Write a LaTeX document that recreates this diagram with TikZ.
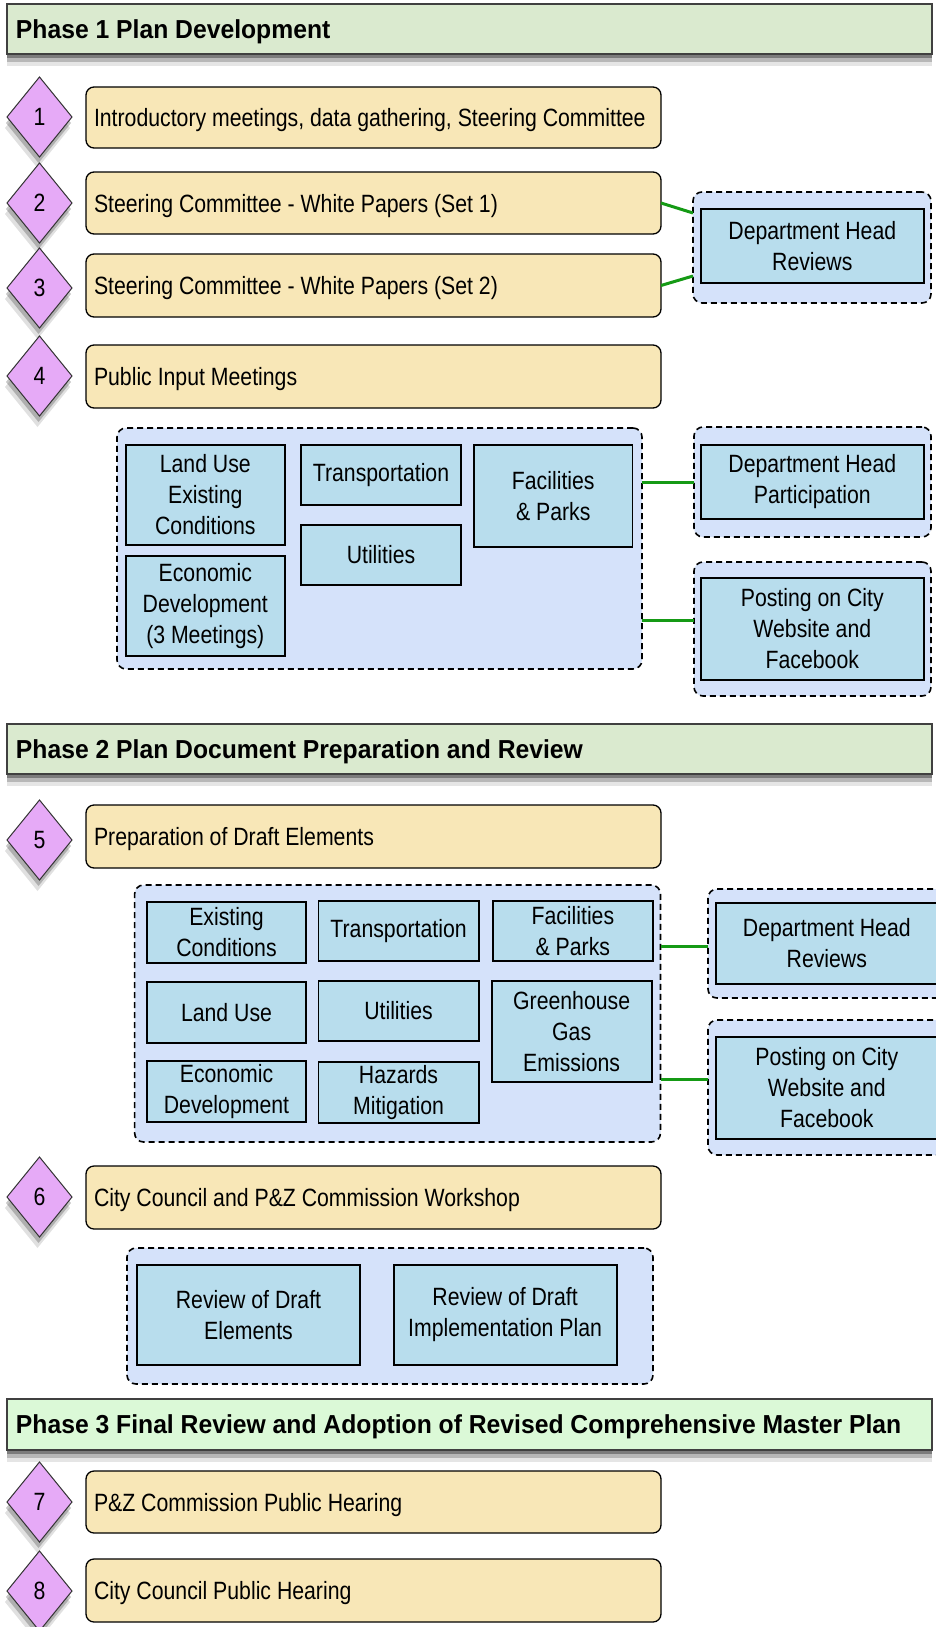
\documentclass[tikz,border=0pt]{standalone}
\usepackage{fontspec}
\setmainfont{Liberation Sans}[FakeStretch=0.85]
\newfontfamily\titlefont{Liberation Sans}[FakeStretch=0.95]
\usetikzlibrary{shapes.geometric,shadows}
\definecolor{phaseA}{HTML}{DAEACF}
\definecolor{phaseB}{HTML}{DBF9D7}
\definecolor{yel}{HTML}{F8E7B7}
\definecolor{dia}{HTML}{E6AAF7}
\definecolor{blu}{HTML}{B8DDED}
\definecolor{grp}{HTML}{D5E2FA}
\definecolor{conn}{HTML}{159A15}
% \mkbox{style}{name}{x1}{y1}{x2}{y2}{text}
\newcommand\mkbox[7]{%
  \pgfmathsetmacro\mkw{#5-#3}\pgfmathsetmacro\mkh{#6-#4}%
  \pgfmathsetmacro\mkx{(#3+#5)/2}\pgfmathsetmacro\mky{(#4+#6)/2}%
  \node[#1, minimum width=\mkw pt, minimum height=\mkh pt] (#2) at (\mkx,\mky) {#7};}
\newcommand\lefttext[1]{\makebox[559pt][l]{#1}}
\newcommand\lefttitle[1]{\makebox[907pt][l]{#1}}
\begin{document}
\begin{tikzpicture}[x=1pt,y=-1pt,
  every node/.style={inner sep=0pt, outer sep=0pt},
  phasebar/.style={draw=black!75, line width=1.4pt, fill=phaseA,
    font=\titlefont\bfseries\fontsize{26}{30}\selectfont, text height=21.5pt, text depth=3pt,
    drop shadow={shadow xshift=0pt, shadow yshift=-4pt, opacity=.32, fill=black},
    drop shadow={shadow xshift=0pt, shadow yshift=-8pt, opacity=.2, fill=black},
    drop shadow={shadow xshift=0pt, shadow yshift=-12pt, opacity=.1, fill=black}},
  stepitem/.style={draw=black, line width=1.3pt, rounded corners=8pt, fill=yel,
    font=\fontsize{25}{30}\selectfont, text height=20.5pt, text depth=2.5pt},
  numdia/.style={diamond, draw=black!80, line width=1pt, fill=dia, minimum width=65pt, minimum height=80pt,
    font=\fontsize{25}{30}\selectfont,
    drop shadow={shadow xshift=-1pt, shadow yshift=-6pt, opacity=.22, fill=black},
    drop shadow={shadow xshift=-2pt, shadow yshift=-11pt, opacity=.12, fill=black}},
  grpbox/.style={draw=black, line width=1.6pt, dash pattern=on 6pt off 4pt, rounded corners=9pt, fill=grp},
  bluebox/.style={draw=black, line width=1.8pt, fill=blu, align=center, font=\fontsize{25}{31}\selectfont},
  greenlink/.style={draw=conn, line width=3pt}
]
\useasboundingbox (0,0) rectangle (935,1627);

% ---------------- Phase 1
\mkbox{phasebar}{ph1}{7}{4}{932}{54}{\lefttitle{Phase 1 Plan Development}}

\mkbox{stepitem}{s1}{86}{87}{661}{148}{\lefttext{Introductory meetings, data gathering, Steering Committee}}
\mkbox{stepitem}{s2}{86}{172}{661}{234}{\lefttext{Steering Committee - White Papers (Set 1)}}
\mkbox{stepitem}{s3}{86}{254}{661}{317}{\lefttext{Steering Committee - White Papers (Set 2)}}
\mkbox{stepitem}{s4}{86}{345}{661}{408}{\lefttext{Public Input Meetings}}

\node[numdia] (d1) at (39.5,117) {1};
\node[numdia] (d2) at (39.5,203) {2};
\node[numdia] (d3) at (39.5,288) {3};
\node[numdia] (d4) at (39.5,376) {4};

\mkbox{grpbox}{g1}{693}{192}{931}{303}{}
\mkbox{bluebox}{dhr1}{700.6}{209}{924}{283}{Department Head\\Reviews}

\mkbox{grpbox}{gA}{117}{428}{642}{669}{}
\mkbox{bluebox}{lu1}{125.6}{445}{285}{545}{Land Use\\Existing\\Conditions}
\mkbox{bluebox}{ec1}{125.6}{556}{285}{656}{Economic\\Development\\(3 Meetings)}
\mkbox{bluebox}{tr1}{301}{445}{461}{505}{Transportation}
\mkbox{bluebox}{ut1}{301}{525}{461}{585}{Utilities}
\mkbox{bluebox}{fp1}{474}{445}{632.5}{547}{Facilities\\\& Parks}

\mkbox{grpbox}{g2}{694}{427}{931}{537}{}
\mkbox{bluebox}{dhp}{700.6}{445}{924}{519}{Department Head\\Participation}
\mkbox{grpbox}{g3}{694}{562}{931}{696}{}
\mkbox{bluebox}{post1}{700.6}{578}{924}{680}{Posting on City\\Website and\\Facebook}

\coordinate (c1) at (693,213);
\coordinate (c2) at (693,276);
\coordinate (c3) at (694,620);
\draw[greenlink] (s2.east) -- (c1);
\draw[greenlink] (s3.east) -- (c2);
\draw[greenlink] (gA.east |- g2.west) -- (g2.west);
\draw[greenlink] (gA.east |- c3) -- (c3);

% ---------------- Phase 2
\mkbox{phasebar}{ph2}{7}{724}{932}{774}{\lefttitle{Phase 2 Plan Document Preparation and Review}}

\mkbox{stepitem}{s5}{86}{805}{661}{868}{\lefttext{Preparation of Draft Elements}}
\node[numdia] (d5) at (39.5,840) {5};

\mkbox{grpbox}{gB}{134.6}{885}{660.5}{1142}{}
\mkbox{bluebox}{ex2}{147}{902}{306}{963}{Existing\\Conditions}
\mkbox{bluebox}{tr2}{318.5}{901}{478.6}{961}{Transportation}
\mkbox{bluebox}{fp2}{493}{901}{652.7}{961}{Facilities\\\& Parks}
\mkbox{bluebox}{lu2}{147}{982}{306}{1043}{Land Use}
\mkbox{bluebox}{ut2}{318.5}{981}{478.6}{1041}{Utilities}
\mkbox{bluebox}{ghg}{491.6}{981}{651.7}{1082}{Greenhouse\\Gas\\Emissions}
\mkbox{bluebox}{ec2}{147}{1061}{306}{1122}{Economic\\Development}
\mkbox{bluebox}{hz2}{318.5}{1062}{478.6}{1123}{Hazards\\Mitigation}

\mkbox{grpbox}{g4}{708}{889}{962}{998}{}
\mkbox{bluebox}{dhr2}{715.6}{903}{938}{984}{Department Head\\Reviews}
\mkbox{grpbox}{g5}{708}{1020}{962}{1155}{}
\mkbox{bluebox}{post2}{715.6}{1037}{938}{1139}{Posting on City\\Website and\\Facebook}

\coordinate (c4) at (708,946);
\coordinate (c5) at (708,1079);
\draw[greenlink] (gB.east |- c4) -- (c4);
\draw[greenlink] (gB.east |- c5) -- (c5);

\mkbox{stepitem}{s6}{86}{1166}{661}{1229}{\lefttext{City Council and P\&Z Commission Workshop}}
\node[numdia] (d6) at (39.5,1197) {6};

\mkbox{grpbox}{gC}{127}{1248}{653}{1384}{}
\mkbox{bluebox}{rv1}{137}{1265}{360}{1365}{Review of Draft\\Elements}
\mkbox{bluebox}{rv2}{393.6}{1265}{616.6}{1365}{Review of Draft\\Implementation Plan}

% ---------------- Phase 3
\mkbox{phasebar,fill=phaseB}{ph3}{7}{1399}{932}{1450}{\lefttitle{Phase 3 Final Review and Adoption of Revised Comprehensive Master Plan}}

\mkbox{stepitem}{s7}{86}{1471}{661}{1533}{\lefttext{P\&Z Commission Public Hearing}}
\mkbox{stepitem}{s8}{86}{1559}{661}{1622}{\lefttext{City Council Public Hearing}}
\node[numdia] (d7) at (39.5,1502) {7};
\node[numdia] (d8) at (39.5,1591) {8};
\end{tikzpicture}
\end{document}
